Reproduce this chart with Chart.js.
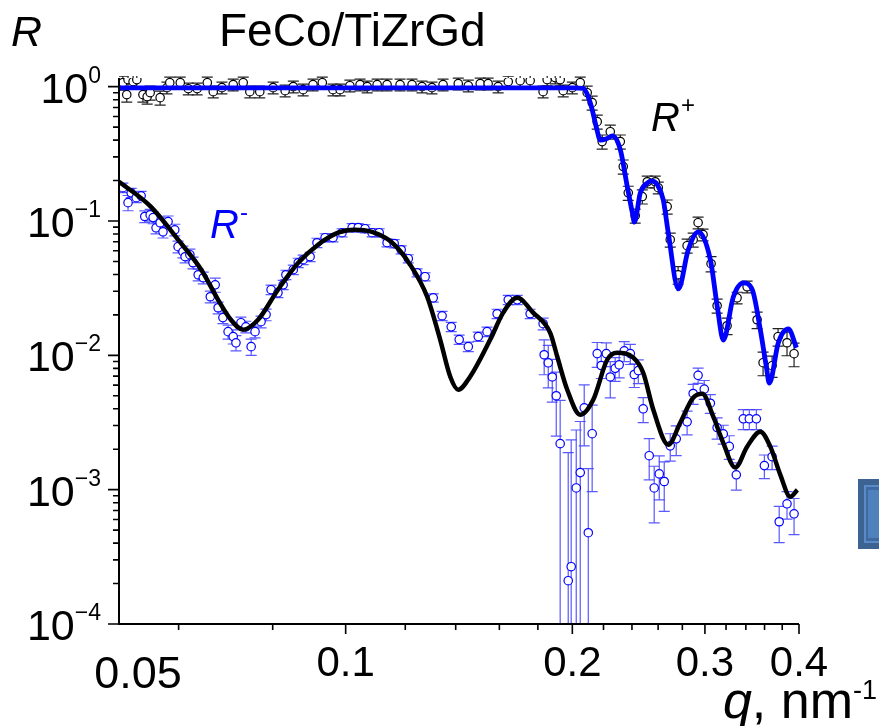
<!DOCTYPE html>
<html>
<head>
<meta charset="utf-8">
<script src="https://cdn.jsdelivr.net/npm/chart.js@4.4.1/dist/chart.umd.min.js"></script>
<style>
html,body{margin:0;padding:0;background:#fff;overflow:hidden;}
#wrap{width:879px;height:726px;position:relative;}
canvas{display:block;}
</style>
</head>
<body>
<div id="wrap"><canvas id="c" width="879" height="726" style="width:879px;height:726px"></canvas></div>
<script>
// ---------- data ----------
// R+ measured (black circles)
const rPlusQ = [0.0506,0.0512,0.0514,0.0522,0.0528,0.0538,0.0545,0.0550,0.0567,0.0579,
0.0584,0.0603,0.0618,0.0635,0.0655,0.0667,0.0685,0.0709,0.0731,0.0746,
0.0769,0.0801,0.0831,0.0852,0.0878,0.0905,0.0931,0.0962,0.0983,0.1013,
0.1045,0.1068,0.1101,0.1135,0.1181,0.1225,0.1263,0.1302,0.1347,0.1411,
0.1455,0.1509,0.1546,0.1594,0.1644,0.1705,0.1758,0.1829,0.1852,0.1898,
0.1927,0.1945,0.2000,0.2049,0.2093,0.2125,0.2158,0.2191,0.2246,0.2316,
0.2337,0.2373,0.2424,0.2477,0.2515,0.2577,0.2601,0.2673,0.2698,0.2764,
0.2841,0.2894,0.2938,0.2983,0.3057,0.3114,0.3210,0.3310,0.3413,0.3519,
0.3584,0.3684,0.3752,0.3856,0.3940];
const rPlusR = [1.071,0.872,1.127,1.089,1.127,0.872,0.842,0.902,0.828,0.983,
1.071,1.071,0.966,0.966,1.071,0.918,0.983,1.035,1.071,0.918,
0.918,0.983,0.934,1.0,0.950,1.035,1.071,0.950,0.950,1.017,
1.035,1.0,1.035,1.035,1.035,1.035,1.0,0.983,1.035,1.053,
1.017,1.053,1.053,1.0,1.089,1.108,1.108,0.918,1.127,1.167,
1.127,0.934,0.983,1.071,0.902,0.760,0.549,0.390,0.462,0.390,
0.254,0.162,0.1095,0.152,0.196,0.196,0.177,0.128,0.0726,0.0398,
0.0655,0.0726,0.0971,0.0791,0.0481,0.0234,0.0166,0.0268,0.0324,0.0184,
0.00881,0.00837,0.01376,0.01241,0.01028];
// relative errors of R+
const rPlusErr = [0.12,0.12,0.12,0.12,0.12,0.12,0.12,0.12,0.12,0.1,
0.1,0.1,0.1,0.1,0.1,0.1,0.1,0.1,0.1,0.1,
0.1,0.1,0.1,0.1,0.1,0.1,0.1,0.1,0.1,0.1,
0.1,0.1,0.1,0.1,0.1,0.1,0.1,0.1,0.1,0.1,
0.1,0.1,0.1,0.1,0.1,0.1,0.1,0.1,0.1,0.1,
0.1,0.1,0.1,0.1,0.12,0.12,0.12,0.12,0.12,0.12,
0.12,0.12,0.12,0.12,0.1,0.1,0.1,0.12,0.12,0.15,
0.12,0.12,0.1,0.1,0.13,0.12,0.14,0.1,0.1,0.14,
0.2,0.18,0.15,0.2,0.2];

// R- measured (blue circles)
const rMinusQ = [0.0506,0.0514,0.0519,0.0527,0.0535,0.0541,0.0550,0.0555,0.0560,0.0567,
0.0572,0.0581,0.0593,0.0599,0.0608,0.0612,0.0621,0.0627,0.0637,0.0647,
0.0661,0.0671,0.0677,0.0687,0.0698,0.0709,0.0715,0.0726,0.0737,0.0749,
0.0758,0.0772,0.0784,0.0796,0.0813,0.0826,0.0833,0.0852,0.0865,0.0878,
0.0897,0.0916,0.0939,0.0962,0.0989,0.1020,0.1039,0.1061,0.1084,0.1108,
0.1135,0.1160,0.1185,0.1211,0.1244,0.1275,0.1307,0.1343,0.1381,0.1415,
0.1455,0.1500,0.1541,0.1589,0.1644,0.1690,0.1758,0.1829,0.1835,0.1858,
0.1881,0.1904,0.1927,0.1975,0.1993,0.2024,0.2049,0.2074,0.2100,0.2125,
0.2158,0.2185,0.2219,0.2246,0.2280,0.2308,0.2344,0.2388,0.2417,0.2447,
0.2484,0.2530,0.2569,0.2609,0.2649,0.2698,0.2748,0.2841,0.2894,0.2938,
0.2994,0.3050,0.3114,0.3173,0.3232,0.3302,0.3374,0.3436,0.3511,0.3598,
0.3684,0.3765,0.3856,0.3940];
const rMinusR = [0.177,0.137,0.162,0.149,0.154,0.108,0.111,0.106,0.089,0.097,
0.083,0.099,0.086,0.0644,0.0591,0.0542,0.0561,0.0489,0.0398,0.0378,
0.0273,0.0335,0.0226,0.0191,0.0150,0.0138,0.0124,0.0175,0.0163,0.0116,
0.0150,0.0178,0.0201,0.0308,0.0292,0.0335,0.0398,0.0434,0.0489,0.0515,
0.0542,0.0689,0.0751,0.0751,0.0818,0.0892,0.0892,0.0876,0.0818,0.0818,
0.0689,0.0678,0.0611,0.0524,0.0412,0.0385,0.0268,0.0197,0.0163,0.0131,
0.0116,0.0138,0.0150,0.0204,0.0259,0.0259,0.0204,0.0172,0.0101,0.0088,
0.0069,0.0050,0.0022,0.000210,0.000267,0.00103,0.00134,0.00407,0.000478,0.00261,
0.0103,0.0084,0.0103,0.0069,0.0080,0.0085,0.0108,0.0103,0.0072,0.0077,
0.0040,0.00179,0.00103,0.00131,0.00115,0.00212,0.00239,0.0032,0.0052,0.0071,
0.0056,0.0044,0.0029,0.0026,0.0021,0.00129,0.00337,0.00337,0.00337,0.00151,
0.00176,0.000577,0.000785,0.000661];
// relative errors of R-
const rMinusErr = [0.08,0.13,0.08,0.08,0.08,0.1,0.1,0.1,0.1,0.1,
0.1,0.1,0.1,0.1,0.1,0.1,0.1,0.1,0.1,0.1,
0.1,0.12,0.1,0.1,0.12,0.12,0.13,0.1,0.1,0.14,
0.1,0.1,0.1,0.08,0.08,0.08,0.08,0.08,0.08,0.08,
0.08,0.08,0.07,0.07,0.07,0.07,0.07,0.07,0.07,0.07,
0.07,0.07,0.07,0.07,0.07,0.07,0.07,0.08,0.08,0.08,
0.08,0.08,0.08,0.08,0.08,0.08,0.08,0.1,0.29,0.35,
0.35,0.5,1.1,8,7.8,1.7,1.4,0.48,2.0,0.63,
0.21,0.2,0.2,0.3,0.2,0.2,0.17,0.17,0.2,0.2,
0.21,0.34,0.45,0.36,0.4,0.23,0.25,0.2,0.17,0.13,
0.16,0.16,0.18,0.16,0.2,0.23,0.17,0.17,0.17,0.2,
0.2,0.3,0.23,0.3];

// model curves
const fitPlusQ = [0.05,0.1,0.15,0.2,0.2068,0.2100,0.2126,0.2152,0.2179,0.2220,
0.2260,0.2316,0.2366,0.2403,0.2418,0.2462,0.2516,0.2546,0.2594,0.2641,
0.2682,0.2766,0.2851,0.2940,0.3051,0.3116,0.3174,0.3272,0.3374,0.3468,
0.3554,0.3620,0.3653,0.3755,0.3872,0.3969];
const fitPlusR = [0.98,0.98,0.98,0.98,0.97,0.84,0.67,0.50,0.40,0.41,
0.43,0.34,0.18,0.115,0.098,0.162,0.192,0.199,0.186,0.144,
0.0815,0.0312,0.061,0.083,0.0513,0.0229,0.013,0.0272,0.0346,0.0307,
0.0155,0.0082,0.0062,0.0124,0.0157,0.0114];
const fitMinusQ = [0.05,0.0551,0.0599,0.0643,0.0677,0.0704,0.0731,0.0765,0.0813,0.0865,
0.0919,0.0977,0.1029,0.1081,0.1149,0.1218,0.1283,0.1335,0.1377,0.1411,
0.1463,0.1556,0.1619,0.1690,0.1774,0.1869,0.1910,0.1969,0.2049,0.2132,
0.2225,0.2294,0.2410,0.2484,0.2562,0.2682,0.2782,0.2894,0.2976,0.3078,
0.3173,0.3292,0.3413,0.3554,0.3664,0.3778,0.3895,0.3980];
const fitMinusR = [0.196,0.128,0.0726,0.0434,0.0259,0.0184,0.0155,0.0184,0.0308,0.0489,
0.0666,0.0818,0.0861,0.0833,0.0700,0.0473,0.0273,0.0131,0.00693,0.00555,
0.00693,0.0131,0.0208,0.0268,0.0208,0.0147,0.00976,0.00555,0.00361,0.00467,
0.00927,0.01045,0.00960,0.00742,0.00393,0.00216,0.00315,0.00483,0.00518,0.00349,
0.00223,0.00146,0.00209,0.00270,0.00209,0.00129,0.000886,0.000998];

// axes
const xMajorTicks = [0.05,0.1,0.2,0.3,0.4];
const xTickLabels = ['0.05','0.1','0.2','0.3','0.4'];
const xMinorTicks = [0.06,0.08,0.12,0.14,0.16,0.18,0.22,0.24,0.26,0.28,0.32,0.34,0.36,0.38];
const yMajorTicks = [1e-4,1e-3,1e-2,1e-1,1];
const yTickExponents = ['\u22124','\u22123','\u22122','\u22121','0'];
const yMinorMultipliers = [2,3,4,5,6,7,8,9];

const FONT = "'Liberation Sans', Arial, Helvetica, sans-serif";
const pts = (qs, rs) => qs.map((q,i)=>({x:q, y:rs[i]}));

// ---------- plugins ----------
const errorBars = {
  id:'errorBars',
  beforeDatasetsDraw(chart){
    const {ctx, chartArea:a, scales:{x, y}} = chart;
    ctx.save();
    ctx.beginPath(); ctx.rect(a.left, a.top-2, a.right-a.left+2, a.bottom-a.top+2); ctx.clip();
    const draw = (qs, rs, es, color) => {
      ctx.strokeStyle = color; ctx.lineWidth = 1.2;
      qs.forEach((q,i)=>{
        const r = rs[i], e = es[i];
        const px = x.getPixelForValue(q);
        const hiV = r*(1+e), loV = r*(1-e);
        const yHi = y.getPixelForValue(hiV);
        const yLo = loV > 0 ? y.getPixelForValue(loV) : a.bottom + 20;
        ctx.beginPath();
        ctx.moveTo(px, yHi); ctx.lineTo(px, yLo);
        ctx.moveTo(px-5.5, yHi); ctx.lineTo(px+5.5, yHi);
        if (loV > 0) { ctx.moveTo(px-5.5, yLo); ctx.lineTo(px+5.5, yLo); }
        ctx.stroke();
      });
    };
    draw(rPlusQ, rPlusR, rPlusErr, '#222');
    draw(rMinusQ, rMinusR, rMinusErr, 'rgba(60,60,255,0.85)');
    ctx.restore();
  }
};

function supText(ctx, base, sup, xRight, baseY, bigPx, supPx, supDy){
  ctx.font = bigPx + 'px ' + FONT;
  const wb = ctx.measureText(base).width;
  ctx.font = supPx + 'px ' + FONT;
  const ws = ctx.measureText(sup).width;
  ctx.textAlign = 'left';
  ctx.font = bigPx + 'px ' + FONT;
  ctx.fillText(base, xRight - ws - wb, baseY);
  ctx.font = supPx + 'px ' + FONT;
  ctx.fillText(sup, xRight - ws, baseY + supDy);
}

const axesPlugin = {
  id:'axesPlugin',
  afterDraw(chart){
    const {ctx, chartArea:a, scales:{x, y}} = chart;
    ctx.save();
    ctx.strokeStyle = '#000'; ctx.fillStyle = '#000';
    ctx.lineWidth = 2;
    ctx.beginPath();
    ctx.moveTo(a.left, a.top); ctx.lineTo(a.left, a.bottom); ctx.lineTo(a.right, a.bottom);
    ctx.stroke();
    ctx.lineWidth = 1.6;
    ctx.beginPath();
    yMajorTicks.forEach(v=>{ const py = y.getPixelForValue(v); ctx.moveTo(a.left-11, py); ctx.lineTo(a.left, py); });
    yMajorTicks.slice(0,4).forEach(v=>{ yMinorMultipliers.forEach(m=>{ const py = y.getPixelForValue(v*m); ctx.moveTo(a.left-6, py); ctx.lineTo(a.left, py); }); });
    xMajorTicks.slice(1).forEach(v=>{ const px = x.getPixelForValue(v); ctx.moveTo(px, a.bottom); ctx.lineTo(px, a.bottom+10); });
    xMinorTicks.forEach(v=>{ const px = x.getPixelForValue(v); ctx.moveTo(px, a.bottom); ctx.lineTo(px, a.bottom+6); });
    ctx.stroke();

    // y tick labels 10^n
    ctx.textBaseline = 'alphabetic';
    yMajorTicks.forEach((v,i)=>{
      const py = y.getPixelForValue(v);
      supText(ctx, '10', yTickExponents[i], 101, py+16, 43, 23, -20);
    });
    // x tick labels
    ctx.textAlign = 'center';
    xMajorTicks.forEach((v,i)=>{
      const px = x.getPixelForValue(v);
      if (i === 0) { ctx.font = '45px ' + FONT; ctx.fillText(xTickLabels[i], px+19, a.bottom+64); }
      else { ctx.font = '42px ' + FONT; ctx.fillText(xTickLabels[i], px, a.bottom+52); }
    });

    // titles / annotations
    ctx.textAlign = 'left';
    ctx.font = 'italic 43px ' + FONT; ctx.fillText('R', 11, 46);
    ctx.font = '46px ' + FONT; ctx.fillText('FeCo/TiZrGd', 219, 46);
    // R+
    ctx.font = 'italic 40px ' + FONT; ctx.fillText('R', 651, 131);
    ctx.font = '24px ' + FONT; ctx.fillText('+', 681, 113);
    // R-
    ctx.fillStyle = '#0000ff';
    ctx.font = 'italic 40px ' + FONT; ctx.fillText('R', 210, 238);
    ctx.font = '24px ' + FONT; ctx.fillText('-', 240, 220);
    // axis title q, nm-1
    ctx.fillStyle = '#000';
    ctx.font = 'italic 52px ' + FONT;
    const wq = ctx.measureText('q').width;
    ctx.font = '52px ' + FONT;
    const wn = ctx.measureText(', nm').width;
    ctx.font = '27px ' + FONT;
    const w1 = ctx.measureText('-1').width;
    const x0 = 877 - w1 - wn - wq;
    ctx.font = 'italic 52px ' + FONT; ctx.fillText('q', x0, 718);
    ctx.font = '52px ' + FONT; ctx.fillText(', nm', x0+wq, 718);
    ctx.font = '27px ' + FONT; ctx.fillText('-1', x0+wq+wn, 699);

    // partial blue box at right edge
    ctx.fillStyle = '#3d6393'; ctx.fillRect(858, 479, 21, 70);
    ctx.fillStyle = '#5a8bc8'; ctx.fillRect(864, 485, 15, 58);
    ctx.fillStyle = '#3f6aa1'; ctx.fillRect(866, 487, 13, 54);
    ctx.fillStyle = '#4f81bd'; ctx.fillRect(868, 490, 11, 48);
    ctx.restore();
  }
};

// ---------- chart ----------
new Chart(document.getElementById('c').getContext('2d'), {
  type: 'line',
  data: {
    datasets: [
      { label:'R+ fit', data: pts(fitPlusQ, fitPlusR), borderColor:'#0000ff', borderWidth:4.8,
        pointRadius:0, cubicInterpolationMode:'monotone', fill:false, order:0 },
      { label:'R- fit', data: pts(fitMinusQ, fitMinusR), borderColor:'#000000', borderWidth:4.5,
        pointRadius:0, cubicInterpolationMode:'monotone', fill:false, order:1 },
      { label:'R+', data: pts(rPlusQ, rPlusR), showLine:false, pointStyle:'circle', pointRadius:4.2,
        pointBorderWidth:1.2, pointBorderColor:'#000', pointBackgroundColor:'#fff', order:2 },
      { label:'R-', data: pts(rMinusQ, rMinusR), showLine:false, pointStyle:'circle', pointRadius:4.2,
        pointBorderWidth:1.2, pointBorderColor:'#0000ff', pointBackgroundColor:'#fff', order:3 }
    ]
  },
  options: {
    responsive:false, animation:false, devicePixelRatio:1,
    layout:{ padding:{ left:119, right:80, top:78, bottom:102 } },
    plugins:{ legend:{display:false}, tooltip:{enabled:false} },
    scales:{
      x:{ type:'logarithmic', min:0.05, max:0.4, display:false },
      y:{ type:'logarithmic', min:1e-4, max:1.16, display:false }
    }
  },
  plugins:[errorBars, axesPlugin]
});
</script>
</body>
</html>
